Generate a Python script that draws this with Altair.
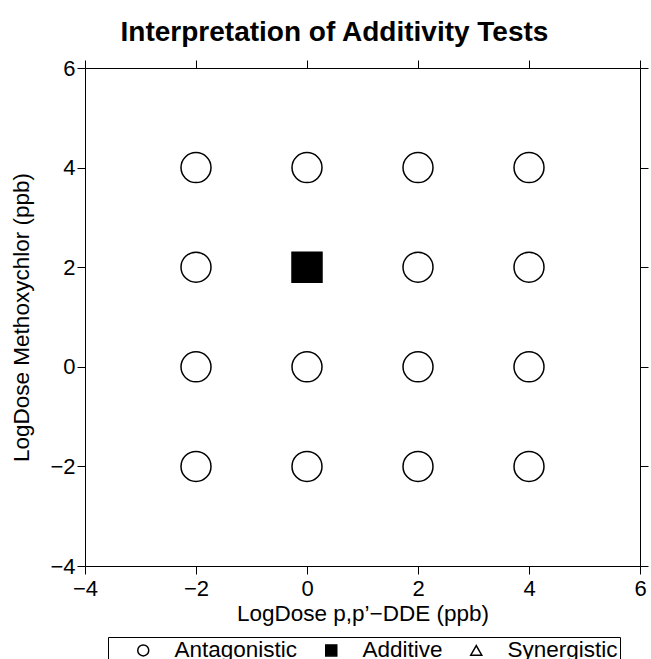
import altair as alt
import pandas as pd

# Data
dde = [-2, -2, -2, -2, 0, 0, 0, 0, 2, 2, 2, 2, 4, 4, 4, 4]
methoxychlor = [4, 2, 0, -2, 4, 2, 0, -2, 4, 2, 0, -2, 4, 2, 0, -2]
result = ["Antagonistic", "Antagonistic", "Antagonistic", "Antagonistic",
          "Antagonistic", "Additive", "Antagonistic", "Antagonistic",
          "Antagonistic", "Antagonistic", "Antagonistic", "Antagonistic",
          "Antagonistic", "Antagonistic", "Antagonistic", "Antagonistic"]
categories = ["Antagonistic", "Additive", "Synergistic"]
shapes = ["circle", "square", "triangle-up"]
fills = ["white", "black", "white"]
strokes = ["black", "black", "black"]
tick_values = [-4, -2, 0, 2, 4, 6]

df = pd.DataFrame({"dde": dde, "mxc": methoxychlor, "result": result})

FONT = "Liberation Sans"

xscale = alt.Scale(domain=[-4, 6], nice=False, zero=False)
yscale = alt.Scale(domain=[-4, 6], nice=False, zero=False)

leg = alt.Legend(title=None)

points = alt.Chart(df).mark_point(
    filled=True, size=900, strokeWidth=1.5, opacity=1
).encode(
    x=alt.X("dde:Q", scale=xscale,
            axis=alt.Axis(orient="bottom", values=tick_values,
                          title="LogDose p,p\u2019\u2212DDE (ppb)")),
    y=alt.Y("mxc:Q", scale=yscale,
            axis=alt.Axis(orient="left", values=tick_values, labelPadding=2,
                          title="LogDose Methoxychlor (ppb)")),
    shape=alt.Shape("result:N", scale=alt.Scale(domain=categories, range=shapes),
                    legend=leg),
    fill=alt.Fill("result:N", scale=alt.Scale(domain=categories, range=fills),
                  legend=leg),
    stroke=alt.Stroke("result:N", scale=alt.Scale(domain=categories, range=strokes),
                      legend=leg),
)

mirror = alt.Chart(df).mark_point(opacity=0).encode(
    x=alt.X("dde:Q", scale=xscale,
            axis=alt.Axis(orient="top", values=tick_values, labels=False, title=None)),
    y=alt.Y("mxc:Q", scale=yscale,
            axis=alt.Axis(orient="right", values=tick_values, labels=False, title=None)),
)

chart = alt.layer(points, mirror).resolve_axis(
    x="independent", y="independent"
).properties(
    width=555,
    height=498,
    padding={"left": 85, "top": 68, "right": 11, "bottom": 93},
    autosize=alt.AutoSizeParams(type="none"),
    title=alt.TitleParams(
        "Interpretation of Additivity Tests",
        font=FONT, fontSize=28, fontWeight="bold", color="black",
        anchor="middle", dx=-28, offset=10,
    ),
).configure_view(
    stroke=None
).configure_axis(
    grid=False,
    domainColor="black", domainWidth=1,
    tickColor="black", tickWidth=1, tickSize=8,
    labelFont=FONT, labelFontSize=22, labelColor="black", labelPadding=4,
    labelFlush=False,
    titleFont=FONT, titleFontSize=22.5, titleColor="black", titleFontWeight="normal",
).configure_axisX(
    titlePadding=3,
).configure_axisY(
    titlePadding=16,
).configure_legend(
    orient="none", legendX=23, legendY=569,
    direction="horizontal",
    strokeColor="black", padding=2,
    symbolOffset=22, labelOffset=20, columnPadding=-1,
    symbolSize=121, symbolStrokeWidth=1.5,
    labelFont=FONT, labelFontSize=22.5, labelColor="black",
)

chart.save("out.html", embed_options={"renderer": "svg", "actions": False})
